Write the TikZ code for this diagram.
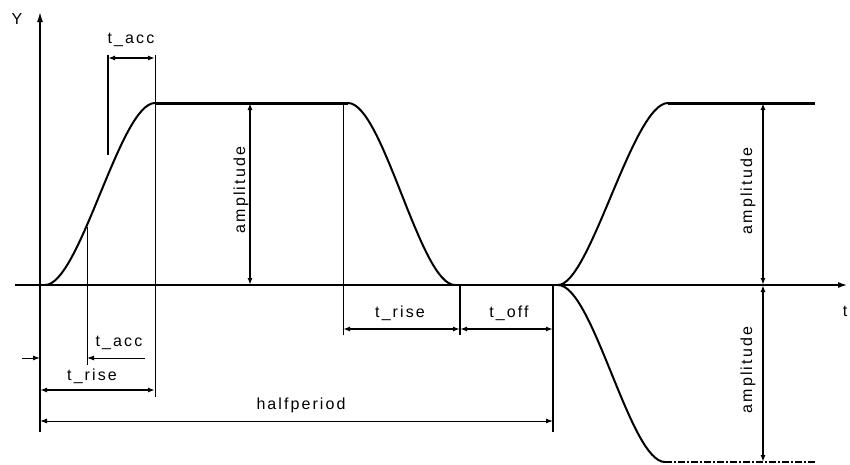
\documentclass[tikz,border=0pt]{standalone}
\usepackage{fontspec}
\newfontfamily\lbl[LetterSpace=13]{Liberation Sans}
\usetikzlibrary{arrows.meta}
\begin{document}
\begin{tikzpicture}[x=1pt,y=-1pt,
  >={Latex[length=7pt,width=5pt]},
  lab/.style={font=\lbl\fontsize{16}{16}\selectfont, inner sep=0pt},
  axisln/.style={line width=2pt, -{Latex[length=10pt,width=6pt]}},
  yaxisln/.style={line width=1.4pt, -{Latex[length=10pt,width=6pt]}},
  crv/.style={line width=2pt},
  plat/.style={line width=3pt},
  thinln/.style={line width=1pt},
  thickln/.style={line width=2pt},
  dimthin/.style={line width=1pt, <->},
  dimthick/.style={line width=2pt, <->},
  botdash/.style={line width=2.5pt, dash pattern=on 7pt off 2pt on 2pt off 2pt}]
\useasboundingbox (0,0) rectangle (850,464);
% key coordinates
\coordinate (yb) at (40,432);
\coordinate (yt) at (40,12);
\coordinate (tl) at (15,285);
\coordinate (tr) at (848,285);
\coordinate (s1) at (45,285);
\coordinate (p1) at (155,103);
\coordinate (p2) at (348,103);
\coordinate (e2) at (455,285);
\coordinate (s3) at (558,285);
\coordinate (p3) at (668,103);
\coordinate (p4) at (815,103);
\coordinate (n3) at (665,462);
\coordinate (n4) at (815,462);
% axes
\draw[yaxisln] (yb) -- (yt);
\draw[axisln] (tl) -- (tr);
\node[lab] (Y) at (17,19) {Y};
\node[lab] (T) at (845,311) {t};
% signal
\draw[crv] (s1) .. controls (80,285) and (120,103) .. (p1);
\draw[plat] (p1) -- (p2);
\draw[crv] (p2) .. controls (383,103) and (420,285) .. (e2);
\draw[crv] (s3) .. controls (590,285) and (633,103) .. (p3);
\draw[plat] (p3) -- (p4);
\draw[crv] (s3) .. controls (593,285) and (630,462) .. (n3);
\draw[botdash] (n3) -- (n4);
% extension lines
\coordinate (a87t) at (87,227);
\coordinate (a87b) at (87,365);
\draw[thinln] (a87t) -- (a87b);
\coordinate (a108t) at (108,55);
\coordinate (a108b) at (108,155);
\draw[thickln] (a108t) -- (a108b);
\coordinate (a155t) at (155,55);
\coordinate (a155b) at (155,397);
\draw[thinln] (a155t) -- (a155b);
\coordinate (a343t) at (343,103);
\coordinate (a343b) at (343,335);
\draw[thinln] (a343t) -- (a343b);
\coordinate (a460t) at (460,285);
\coordinate (a460b) at (460,335);
\draw[thickln] (a460t) -- (a460b);
\coordinate (a553t) at (553,285);
\coordinate (a553b) at (553,432);
\draw[thickln] (a553t) -- (a553b);
% top t_acc
\draw[dimthick] (108,58) -- (155,58);
\node[lab] (tacc1) at (131,40) {t\_acc};
% bottom t_acc
\coordinate (ta1) at (22,358);
\coordinate (ta2) at (40,358);
\coordinate (ta3) at (145,358);
\coordinate (ta4) at (87,358);
\draw[thinln,->] (ta1) -- (ta2);
\draw[thinln,->] (ta3) -- (ta4);
\node[lab] (tacc2) at (119,343) {t\_acc};
% t_rise left
\draw[dimthick] (40,390) -- (155,390);
\node[lab] (trise1) at (92,376) {t\_rise};
% halfperiod
\draw[dimthin] (40,421) -- (553,421);
\node[lab] (hp) at (301,405) {halfperiod};
% t_rise / t_off
\draw[dimthick] (343,329) -- (460,329);
\node[lab] (trise2) at (400,313) {t\_rise};
\draw[dimthick] (460,329) -- (553,329);
\node[lab] (toff) at (509,313) {t\_off};
% amplitudes
\draw[dimthick] (250,103) -- (250,285);
\node[lab, rotate=90] (amp1) at (241,190) {amplitude};
\draw[dimthick] (763,103) -- (763,285);
\node[lab, rotate=90] (amp2) at (748,191) {amplitude};
\draw[dimthick] (763,285) -- (763,462);
\node[lab, rotate=90] (amp3) at (748,370) {amplitude};
\end{tikzpicture}
\end{document}
